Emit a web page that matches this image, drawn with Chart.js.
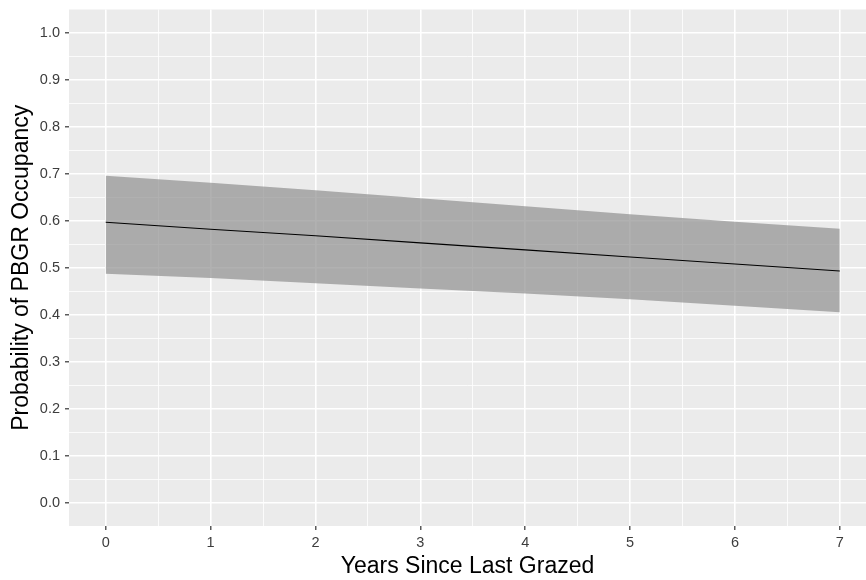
<!DOCTYPE html>
<html>
<head>
<meta charset="utf-8">
<script src="https://cdn.jsdelivr.net/npm/chart.js@4.4.1/dist/chart.umd.min.js"></script>
<style>
  html, body { margin: 0; padding: 0; background: #fff; overflow: hidden; }
  canvas { display: block; }
</style>
</head>
<body>
<canvas id="graph" width="866" height="580"></canvas>
<script>
// values
const years = [0, 1, 2, 3, 4, 5, 6, 7];
const fitProb = [0.597, 0.582, 0.568, 0.553, 0.538, 0.523, 0.508, 0.493];
const upperCI = [0.696, 0.681, 0.665, 0.648, 0.631, 0.614, 0.598, 0.583];
const lowerCI = [0.487, 0.478, 0.467, 0.456, 0.445, 0.433, 0.419, 0.405];

const xTicks = [0, 1, 2, 3, 4, 5, 6, 7];
const yTicks = [0.0, 0.1, 0.2, 0.3, 0.4, 0.5, 0.6, 0.7, 0.8, 0.9, 1.0];
const xTickLabels = ["0", "1", "2", "3", "4", "5", "6", "7"];
const yTickLabels = ["0.0", "0.1", "0.2", "0.3", "0.4", "0.5", "0.6", "0.7", "0.8", "0.9", "1.0"];

// major + minor grid positions (ggplot style)
const xGrid = [];
for (let i = 0; i <= 14; i++) xGrid.push(i / 2);
const yGrid = [];
for (let i = 0; i <= 20; i++) yGrid.push(i / 20);

const isMajorX = v => xTicks.some(t => Math.abs(t - v) < 1e-6);
const isMajorY = v => yTicks.some(t => Math.abs(t - v) < 1e-6);

const panelBg = {
  id: "panelBg",
  beforeDraw(chart) {
    const { ctx, chartArea: a } = chart;
    ctx.save();
    ctx.fillStyle = "#ebebeb";
    ctx.fillRect(a.left, a.top, a.right - a.left, a.bottom - a.top);
    ctx.restore();
  },
};

const tickFont = { family: "'Liberation Sans', Arial, sans-serif", size: 14.5 };
const titleFont = { family: "'Liberation Sans', Arial, sans-serif", size: 23, lineHeight: 1.2 };

const toPts = arr => years.map((x, i) => ({ x: x, y: arr[i] }));

const graph = document.getElementById("graph").getContext("2d");

const myChart = new Chart(graph, {
  type: "line",
  data: {
    datasets: [
      {
        label: "lower",
        data: toPts(lowerCI),
        borderWidth: 0,
        pointRadius: 0,
        fill: false,
        order: 1,
      },
      {
        label: "upper",
        data: toPts(upperCI),
        borderWidth: 0,
        pointRadius: 0,
        backgroundColor: "rgba(140, 140, 140, 0.68)",
        fill: "-1",
        order: 1,
      },
      {
        // fitted line goes on top of the ribbon
        label: "fit",
        data: toPts(fitProb),
        borderColor: "#000000",
        borderWidth: 1.1,
        pointRadius: 0,
        fill: false,
        tension: 0,
        order: 0,
      },
    ],
  },
  options: {
    responsive: false,
    animation: false,
    layout: {
      padding: { top: 9.5, right: 0, left: 0, bottom: 0 },
    },
    plugins: {
      legend: { display: false },
      tooltip: { enabled: false },
    },
    scales: {
      x: {
        type: "linear",
        min: -0.35,
        max: 7.25,
        afterBuildTicks: s => { s.ticks = xGrid.map(v => ({ value: v })); },
        afterFit: s => {
          s.height = 54;
          s.paddingLeft = 0;
          s.paddingRight = 0;
        },
        border: { display: false },
        grid: {
          color: "#ffffff",
          lineWidth: c => (isMajorX(c.tick.value) ? 1.6 : 0.8),
          tickColor: c => (isMajorX(c.tick.value) ? "#333333" : "rgba(0,0,0,0)"),
          tickLength: 4,
          tickWidth: 1.2,
        },
        ticks: {
          autoSkip: false,
          maxRotation: 0,
          padding: 4,
          color: "#3d3d3d",
          font: tickFont,
          callback: v => {
            const i = xTicks.findIndex(t => Math.abs(t - v) < 1e-6);
            return i >= 0 ? xTickLabels[i] : "";
          },
        },
        title: {
          display: true,
          text: "Years Since Last Grazed",
          color: "#000000",
          font: titleFont,
          padding: 0,
        },
      },
      y: {
        type: "linear",
        min: -0.05,
        max: 1.05,
        afterBuildTicks: s => { s.ticks = yGrid.map(v => ({ value: v })); },
        afterFit: s => {
          s.width = 69;
          s.paddingTop = 0;
          s.paddingBottom = 0;
        },
        border: { display: false },
        grid: {
          color: "#ffffff",
          lineWidth: c => (isMajorY(c.tick.value) ? 1.6 : 0.8),
          tickColor: c => (isMajorY(c.tick.value) ? "#333333" : "rgba(0,0,0,0)"),
          tickLength: 4,
          tickWidth: 1.2,
        },
        ticks: {
          autoSkip: false,
          padding: 5,
          color: "#3d3d3d",
          font: tickFont,
          callback: v => {
            const i = yTicks.findIndex(t => Math.abs(t - v) < 1e-6);
            return i >= 0 ? yTickLabels[i] : "";
          },
        },
        title: {
          display: true,
          text: "Probability of PBGR Occupancy",
          color: "#000000",
          font: titleFont,
          padding: { top: 8, bottom: 0 },
        },
      },
    },
  },
  plugins: [panelBg],
});
</script>
</body>
</html>
